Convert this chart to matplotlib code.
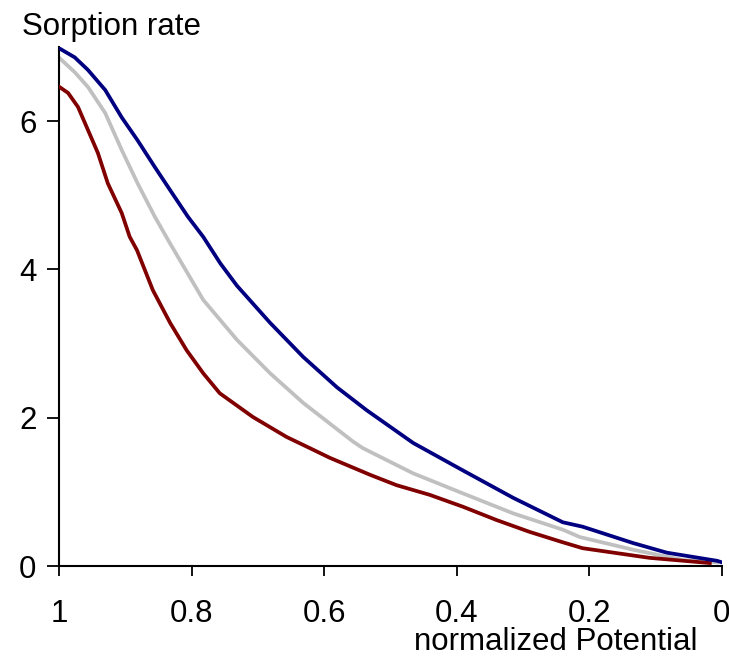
import matplotlib
matplotlib.use("Agg")
import matplotlib.pyplot as plt

plt.rcParams['font.family'] = ['Liberation Sans', 'DejaVu Sans']

# Blue (top) curve
blue_x = [1.0, 0.977, 0.957, 0.931, 0.906, 0.882, 0.856, 0.830, 0.806, 0.783, 0.757, 0.732,
          0.682, 0.632, 0.581, 0.536, 0.466, 0.391, 0.315, 0.240, 0.210, 0.134, 0.083, 0.007, 0.0]
blue_y = [6.98, 6.86, 6.69, 6.42, 6.05, 5.74, 5.38, 5.03, 4.71, 4.44, 4.08, 3.78,
          3.28, 2.82, 2.41, 2.10, 1.66, 1.29, 0.92, 0.59, 0.53, 0.31, 0.18, 0.07, 0.05]

# Gray (middle) curve
gray_x = [1.0, 0.977, 0.957, 0.931, 0.906, 0.882, 0.856, 0.833, 0.783, 0.732, 0.682,
          0.632, 0.557, 0.542, 0.466, 0.391, 0.315, 0.240, 0.214, 0.134, 0.058, 0.007]
gray_y = [6.85, 6.66, 6.46, 6.11, 5.61, 5.16, 4.71, 4.35, 3.59, 3.05, 2.60,
          2.20, 1.68, 1.59, 1.25, 0.98, 0.71, 0.49, 0.39, 0.22, 0.08, 0.05]

# Red (bottom) curve
red_x = [1.0, 0.987, 0.972, 0.957, 0.942, 0.927, 0.906, 0.894, 0.883, 0.859, 0.833, 0.808,
         0.783, 0.758, 0.708, 0.657, 0.622, 0.592, 0.531, 0.491, 0.441, 0.391, 0.340, 0.290,
         0.240, 0.210, 0.109, 0.018]
red_y = [6.46, 6.38, 6.19, 5.88, 5.57, 5.16, 4.76, 4.44, 4.26, 3.72, 3.28, 2.91,
         2.60, 2.33, 2.01, 1.74, 1.59, 1.46, 1.23, 1.09, 0.96, 0.80, 0.62, 0.46,
         0.32, 0.24, 0.11, 0.04]

x_ticks = [1, 0.8, 0.6, 0.4, 0.2, 0]
x_tick_labels = ["1", "0.8", "0.6", "0.4", "0.2", "0"]
y_ticks = [0, 2, 4, 6]
y_tick_labels = ["0", "2", "4", "6"]

fig = plt.figure(figsize=(7.29, 6.57), dpi=100)
ax = fig.add_axes([0.0816, 0.1385, 0.990 - 0.0816, 0.9285 - 0.1385])

lw = 2.7
ax.plot(gray_x, gray_y, color='#C0C0C0', lw=lw, zorder=2, solid_joinstyle='round')
ax.plot(red_x, red_y, color='#800000', lw=lw, zorder=3, solid_joinstyle='round')
ax.plot(blue_x, blue_y, color='#000080', lw=lw, zorder=4, solid_joinstyle='round')

ax.set_xlim(1, 0)
ax.set_ylim(0, 7)
ax.set_xticks(x_ticks)
ax.set_xticklabels(x_tick_labels)
ax.set_yticks(y_ticks)
ax.set_yticklabels(y_tick_labels)

for s in ['top', 'right']:
    ax.spines[s].set_visible(False)
for s in ['left', 'bottom']:
    ax.spines[s].set_linewidth(1.5)
    ax.spines[s].set_color('black')

ax.tick_params(axis='x', direction='out', length=7.5, width=1.3, pad=16, labelsize=22.5)
ax.tick_params(axis='y', direction='out', length=8.5, width=1.3, pad=8, labelsize=22.5)
for lbl in ax.get_xticklabels():
    lbl.set_clip_on(False)

fig.text(22 / 729, 1 - 35 / 657, "Sorption rate", fontsize=22.5, ha='left', va='baseline')
fig.text(698 / 729, 1 - 650 / 657, "normalized Potential", fontsize=22.5, ha='right', va='baseline')

fig.savefig("out.png", dpi=100)
